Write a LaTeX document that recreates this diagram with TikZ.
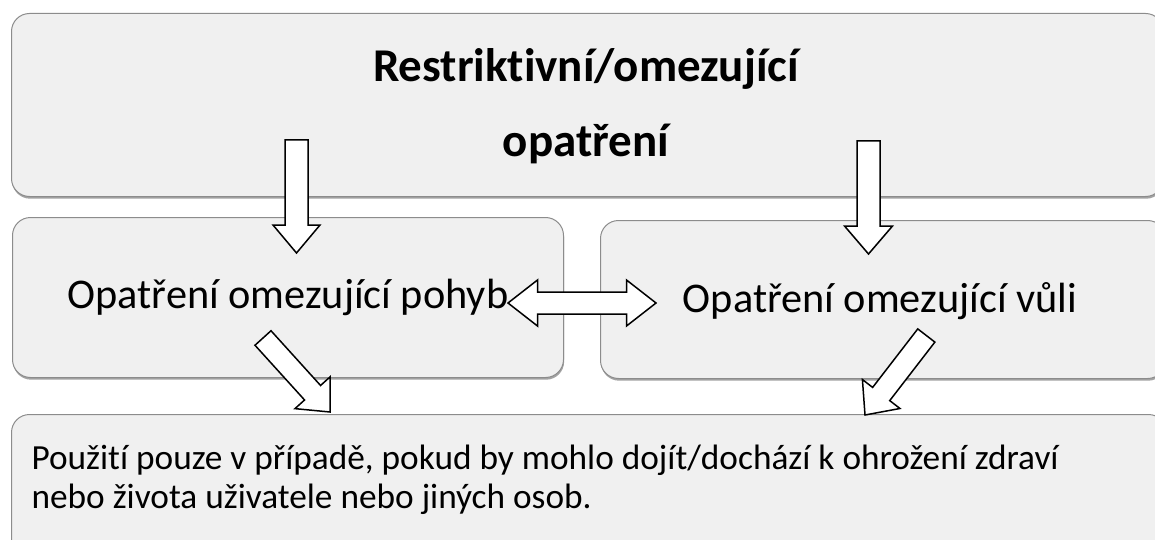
\documentclass[tikz,border=0pt]{standalone}
\usepackage{fontspec}
\setmainfont[Ligatures=NoCommon]{Carlito}
\usetikzlibrary{calc,shadows}
\definecolor{boxfill}{HTML}{F0F0F0}
\definecolor{boxborder}{HTML}{8C8C8C}
\tikzset{
  boxstyle/.style={draw=boxborder, fill=boxfill, rounded corners=18pt, line width=1pt,
    inner sep=0pt, anchor=north west,
    drop shadow={shadow xshift=0.6pt, shadow yshift=-2.2pt, opacity=0.55, fill=black!65}},
  blockarr/.style={draw=black, fill=white, line width=1.5pt, line join=miter},
  bigtitle/.style={anchor=base, font=\bfseries\fontsize{47}{55}\selectfont},
  midtext/.style={anchor=base, font=\fontsize{42.3}{50}\selectfont},
  bottext/.style={anchor=base west, font=\fontsize{35.3}{39}\selectfont},
}
% #1 tail, #2 tip, #3 shaft half width, #4 head half width, #5 head length
\newcommand\myblockarrow[5]{%
  \path ($(#2)!#5!(#1)$) coordinate (hb);
  \draw[blockarr] ($(#1)!#3!90:(#2)$) -- ($(hb)!#3!90:(#2)$) -- ($(hb)!#4!90:(#2)$)
    -- (#2) -- ($(hb)!#4!-90:(#2)$) -- ($(hb)!#3!-90:(#2)$) -- ($(#1)!#3!-90:(#2)$) -- cycle;
}
% #1 left tip, #2 right tip, #3 shaft half, #4 head half, #5 head length
\newcommand\mydoublearrow[5]{%
  \path ($(#1)!#5!(#2)$) coordinate (hl);
  \path ($(#2)!#5!(#1)$) coordinate (hr);
  \draw[blockarr] (#1) -- ($(hl)!#4!90:(#2)$) -- ($(hl)!#3!90:(#2)$) -- ($(hr)!#3!-90:(#1)$)
    -- ($(hr)!#4!-90:(#1)$) -- (#2) -- ($(hr)!#4!90:(#1)$) -- ($(hr)!#3!90:(#1)$)
    -- ($(hl)!#3!-90:(#2)$) -- ($(hl)!#4!-90:(#2)$) -- cycle;
}
\begin{document}
\begin{tikzpicture}[x=1pt,y=-1pt]
\useasboundingbox (0,0) rectangle (1155,540);
\clip (0,0) rectangle (1155,540);
\fill[white] (0,0) rectangle (1155,540);

% boxes
\node[boxstyle, minimum width=1152pt, minimum height=183pt] (topbox) at (11,13) {};
\node[boxstyle, minimum width=551pt, minimum height=160pt] (leftbox) at (12,217) {};
\node[boxstyle, minimum width=565pt, minimum height=158pt] (rightbox) at (600,220) {};
\node[boxstyle, minimum width=1155pt, minimum height=160pt] (botbox) at (11,414) {};

% texts
\node[bigtitle] (title1) at (586,82) {Restriktivní/omezující};
\node[bigtitle] (title2) at (586,157) {opatření};
\node[midtext] (lefttext) at (288,308) {Opatření omezující pohyb};
\node[midtext] (righttext) at (880,312) {Opatření omezující vůli};
\node[bottext] (bot1) at (28,469) {Použití pouze v případě, pokud by mohlo dojít/dochází k ohrožení zdraví};
\node[bottext] (bot2) at (28,508) {nebo života uživatele nebo jiných osob.};

% arrow end points
\coordinate (a1t) at (296.5,140);
\coordinate (a1h) at (296.5,253);
\coordinate (a2t) at (868.5,141);
\coordinate (a2h) at (868.5,254);
\coordinate (dl) at (508,303);
\coordinate (dr) at (656,303);
\coordinate (a3t) at (263,338);
\coordinate (a3h) at (330,412);
\coordinate (a4t) at (926.3,335.5);
\coordinate (a4h) at (865,415);

% arrows
\myblockarrow{a1t}{a1h}{11.5pt}{23.5pt}{28pt}
\myblockarrow{a2t}{a2h}{11.5pt}{24pt}{28pt}
\mydoublearrow{dl}{dr}{11pt}{23pt}{29.5pt}
\myblockarrow{a3t}{a3h}{10.8pt}{23.7pt}{26pt}
\myblockarrow{a4t}{a4h}{10.8pt}{23.7pt}{26.5pt}
\end{tikzpicture}
\end{document}
